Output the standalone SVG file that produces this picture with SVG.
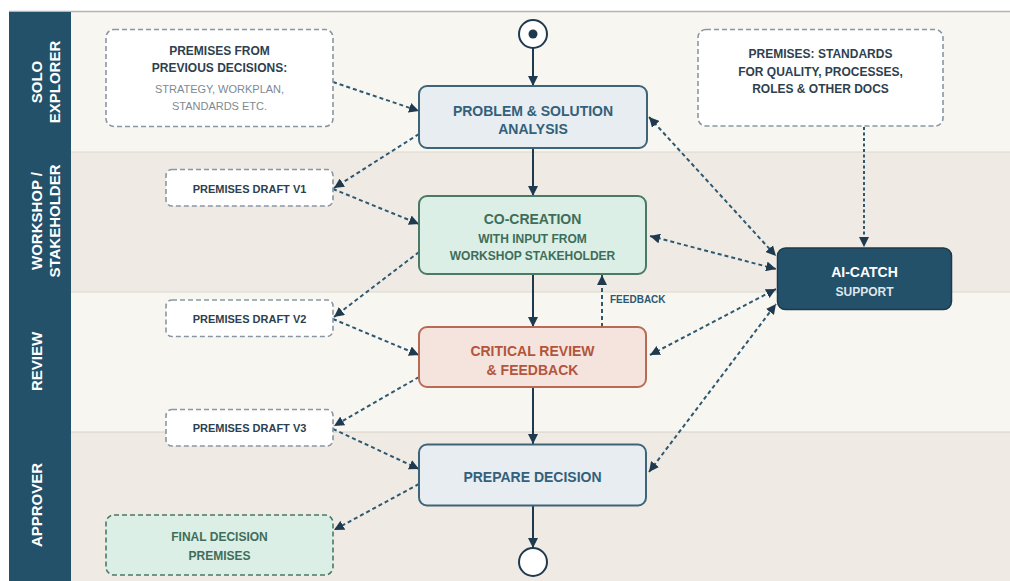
<svg xmlns="http://www.w3.org/2000/svg" width="1010" height="581" viewBox="0 0 1010 581">
<defs>
<marker id="ah" viewBox="0 0 10 10" refX="10" refY="5" markerWidth="10" markerHeight="10" markerUnits="userSpaceOnUse" orient="auto-start-reverse">
<path d="M0,0 L10,5 L0,10 z" fill="#1f3a4f"/>
</marker>
<style>
text{font-family:"Liberation Sans",Arial,sans-serif;text-anchor:middle}
.lane-label{fill:#ffffff;font-size:15px;font-weight:bold}
.prem{fill:#ffffff;stroke:#8a96a2;stroke-width:1.6;stroke-dasharray:5 3}
.premt{fill:#2e3f50;font-size:12px;font-weight:bold}
.premsub{fill:#7e8993;font-size:11px}
.draftt{fill:#2e3f50;font-size:11px;font-weight:bold}
.flow{stroke:#1f3a4f;stroke-width:2;fill:none}
.dash{stroke:#2e5870;stroke-width:2;fill:none;stroke-dasharray:4 3}
.dot{stroke:#2e5870;stroke-width:2;fill:none;stroke-dasharray:3 2.5}
.title{font-size:14px;font-weight:bold}
.sub{font-size:12px;font-weight:bold}
</style>
</defs>
<rect x="0" y="0" width="1010" height="581" fill="#ffffff"/>
<g id="lanes">
<rect x="9" y="12" width="1001" height="140" fill="#f8f6f1"/>
<rect x="9" y="152" width="1001" height="140" fill="#efebe4"/>
<rect x="9" y="292" width="1001" height="140" fill="#f8f6f1"/>
<rect x="9" y="432" width="1001" height="149" fill="#efebe4"/>
<line x1="71" y1="152" x2="1010" y2="152" stroke="#dcd7ce" stroke-width="1"/>
<line x1="71" y1="292" x2="1010" y2="292" stroke="#dcd7ce" stroke-width="1"/>
<line x1="71" y1="432" x2="1010" y2="432" stroke="#d6d1c8" stroke-width="1"/>
<line x1="9" y1="11.5" x2="1010" y2="11.5" stroke="#b4b4b4" stroke-width="1.5"/>
<rect x="9" y="12" width="62" height="569" fill="#24516a"/>
<text class="lane-label" transform="rotate(-90 42 82)" x="42" y="82">SOLO</text>
<text class="lane-label" transform="rotate(-90 59.5 82)" x="59.5" y="82">EXPLORER</text>
<text class="lane-label" transform="rotate(-90 42 221)" x="42" y="221">WORKSHOP /</text>
<text class="lane-label" transform="rotate(-90 59.5 221)" x="59.5" y="221">STAKEHOLDER</text>
<text class="lane-label" transform="rotate(-90 42 361.5)" x="42" y="361.5">REVIEW</text>
<text class="lane-label" transform="rotate(-90 42 505)" x="42" y="505">APPROVER</text>
</g>
<g id="connectors">
<line class="flow" x1="533" y1="48" x2="533" y2="86" marker-end="url(#ah)"/>
<line class="flow" x1="533" y1="148" x2="533" y2="196" marker-end="url(#ah)"/>
<line class="flow" x1="533" y1="274" x2="533" y2="327" marker-end="url(#ah)"/>
<line class="flow" x1="533" y1="387" x2="533" y2="444" marker-end="url(#ah)"/>
<line class="flow" x1="533" y1="506" x2="533" y2="548" marker-end="url(#ah)"/>
<line class="dash" x1="602" y1="327" x2="602" y2="275" marker-end="url(#ah)"/>
<line class="dash" x1="333" y1="82" x2="419" y2="111" marker-end="url(#ah)"/>
<line class="dash" x1="419" y1="134" x2="334" y2="188" marker-end="url(#ah)"/>
<line class="dash" x1="333" y1="189" x2="419" y2="224" marker-end="url(#ah)"/>
<line class="dash" x1="419" y1="252" x2="334" y2="317" marker-end="url(#ah)"/>
<line class="dash" x1="333" y1="319" x2="419" y2="355" marker-end="url(#ah)"/>
<line class="dash" x1="419" y1="377" x2="334" y2="426" marker-end="url(#ah)"/>
<line class="dash" x1="333" y1="429" x2="419" y2="469" marker-end="url(#ah)"/>
<line class="dash" x1="419" y1="484" x2="334" y2="530" marker-end="url(#ah)"/>
<line class="dot" x1="864" y1="127" x2="864" y2="247" marker-end="url(#ah)"/>
<line class="dash" x1="649" y1="117" x2="776" y2="256" marker-start="url(#ah)" marker-end="url(#ah)"/>
<line class="dash" x1="650" y1="236" x2="776" y2="269" marker-start="url(#ah)" marker-end="url(#ah)"/>
<line class="dash" x1="650" y1="355" x2="776" y2="289" marker-start="url(#ah)" marker-end="url(#ah)"/>
<line class="dash" x1="649" y1="472" x2="776" y2="304" marker-start="url(#ah)" marker-end="url(#ah)"/>
<text x="610" y="302.5" style="text-anchor:start;font-size:10px;font-weight:bold;fill:#2e5870">FEEDBACK</text>
</g>
<g id="start">
<circle cx="533" cy="34" r="14" fill="#ffffff" stroke="#1f3a4f" stroke-width="2"/>
<circle cx="533" cy="34" r="4.5" fill="#1f3a4f"/>
</g>
<g id="end">
<circle cx="533" cy="562" r="14" fill="#ffffff" stroke="#1f3a4f" stroke-width="2"/>
</g>
<g id="premises-previous">
<rect class="prem" x="106" y="29.5" width="227" height="97" rx="8"/>
<text class="premt" x="219.5" y="55">PREMISES FROM</text>
<text class="premt" x="219.5" y="72">PREVIOUS DECISIONS:</text>
<text class="premsub" x="219.5" y="93">STRATEGY, WORKPLAN,</text>
<text class="premsub" x="219.5" y="110">STANDARDS ETC.</text>
</g>
<g id="premises-standards">
<rect class="prem" x="698" y="29.5" width="245" height="96.5" rx="8"/>
<text class="premt" x="820.5" y="58.3">PREMISES: STANDARDS</text>
<text class="premt" x="820.5" y="76">FOR QUALITY, PROCESSES,</text>
<text class="premt" x="820.5" y="92.6">ROLES &amp; OTHER DOCS</text>
</g>
<g id="problem">
<rect x="419" y="86" width="228" height="62" rx="8" fill="#e8edf1" stroke="#3d6577" stroke-width="2"/>
<text class="title" x="533" y="115.7" fill="#33607a">PROBLEM &amp; SOLUTION</text>
<text class="title" x="533" y="134.3" fill="#33607a">ANALYSIS</text>
</g>
<g id="draft-v1">
<rect class="prem" x="166" y="169.5" width="167" height="36.5" rx="6"/>
<text class="draftt" x="249.5" y="193">PREMISES DRAFT V1</text>
</g>
<g id="cocreation">
<rect x="419" y="196" width="227" height="78" rx="8" fill="#dcefe6" stroke="#4a7a66" stroke-width="2"/>
<text class="title" x="532.5" y="224.3" fill="#3e6e5a">CO-CREATION</text>
<text class="sub" x="532.5" y="243" fill="#3e6e5a">WITH INPUT FROM</text>
<text class="sub" x="532.5" y="259.6" fill="#3e6e5a">WORKSHOP STAKEHOLDER</text>
</g>
<g id="draft-v2">
<rect class="prem" x="166" y="300" width="167" height="36.5" rx="6"/>
<text class="draftt" x="249.5" y="323">PREMISES DRAFT V2</text>
</g>
<g id="critical">
<rect x="419" y="327" width="227" height="60" rx="8" fill="#f5e4de" stroke="#b86a55" stroke-width="2"/>
<text class="title" x="532.5" y="355.7" fill="#b3553b">CRITICAL REVIEW</text>
<text class="title" x="532.5" y="375" fill="#b3553b">&amp; FEEDBACK</text>
</g>
<g id="draft-v3">
<rect class="prem" x="166" y="409.5" width="167" height="36.5" rx="6"/>
<text class="draftt" x="249.5" y="432.3">PREMISES DRAFT V3</text>
</g>
<g id="prepare">
<rect x="419" y="444.5" width="227" height="61" rx="8" fill="#e8edf1" stroke="#3d6577" stroke-width="2"/>
<text class="title" x="532.5" y="482.3" fill="#33607a">PREPARE DECISION</text>
</g>
<g id="final-premises">
<rect x="106" y="515" width="227" height="60" rx="8" fill="#dcefe6" stroke="#4a7a66" stroke-width="1.6" stroke-dasharray="5 3"/>
<text class="premt" x="219.5" y="541" style="fill:#3e6e5a">FINAL DECISION</text>
<text class="premt" x="219.5" y="560.3" style="fill:#3e6e5a">PREMISES</text>
</g>
<g id="ai-catch">
<rect x="777.5" y="248" width="174" height="61.5" rx="8" fill="#24516a" stroke="#1c3a4c" stroke-width="1.5"/>
<text x="864.5" y="277" style="fill:#ffffff;font-size:14px;font-weight:bold">AI-CATCH</text>
<text x="864.5" y="296" style="fill:#dfe6ea;font-size:12px;font-weight:bold">SUPPORT</text>
</g>
</svg>
